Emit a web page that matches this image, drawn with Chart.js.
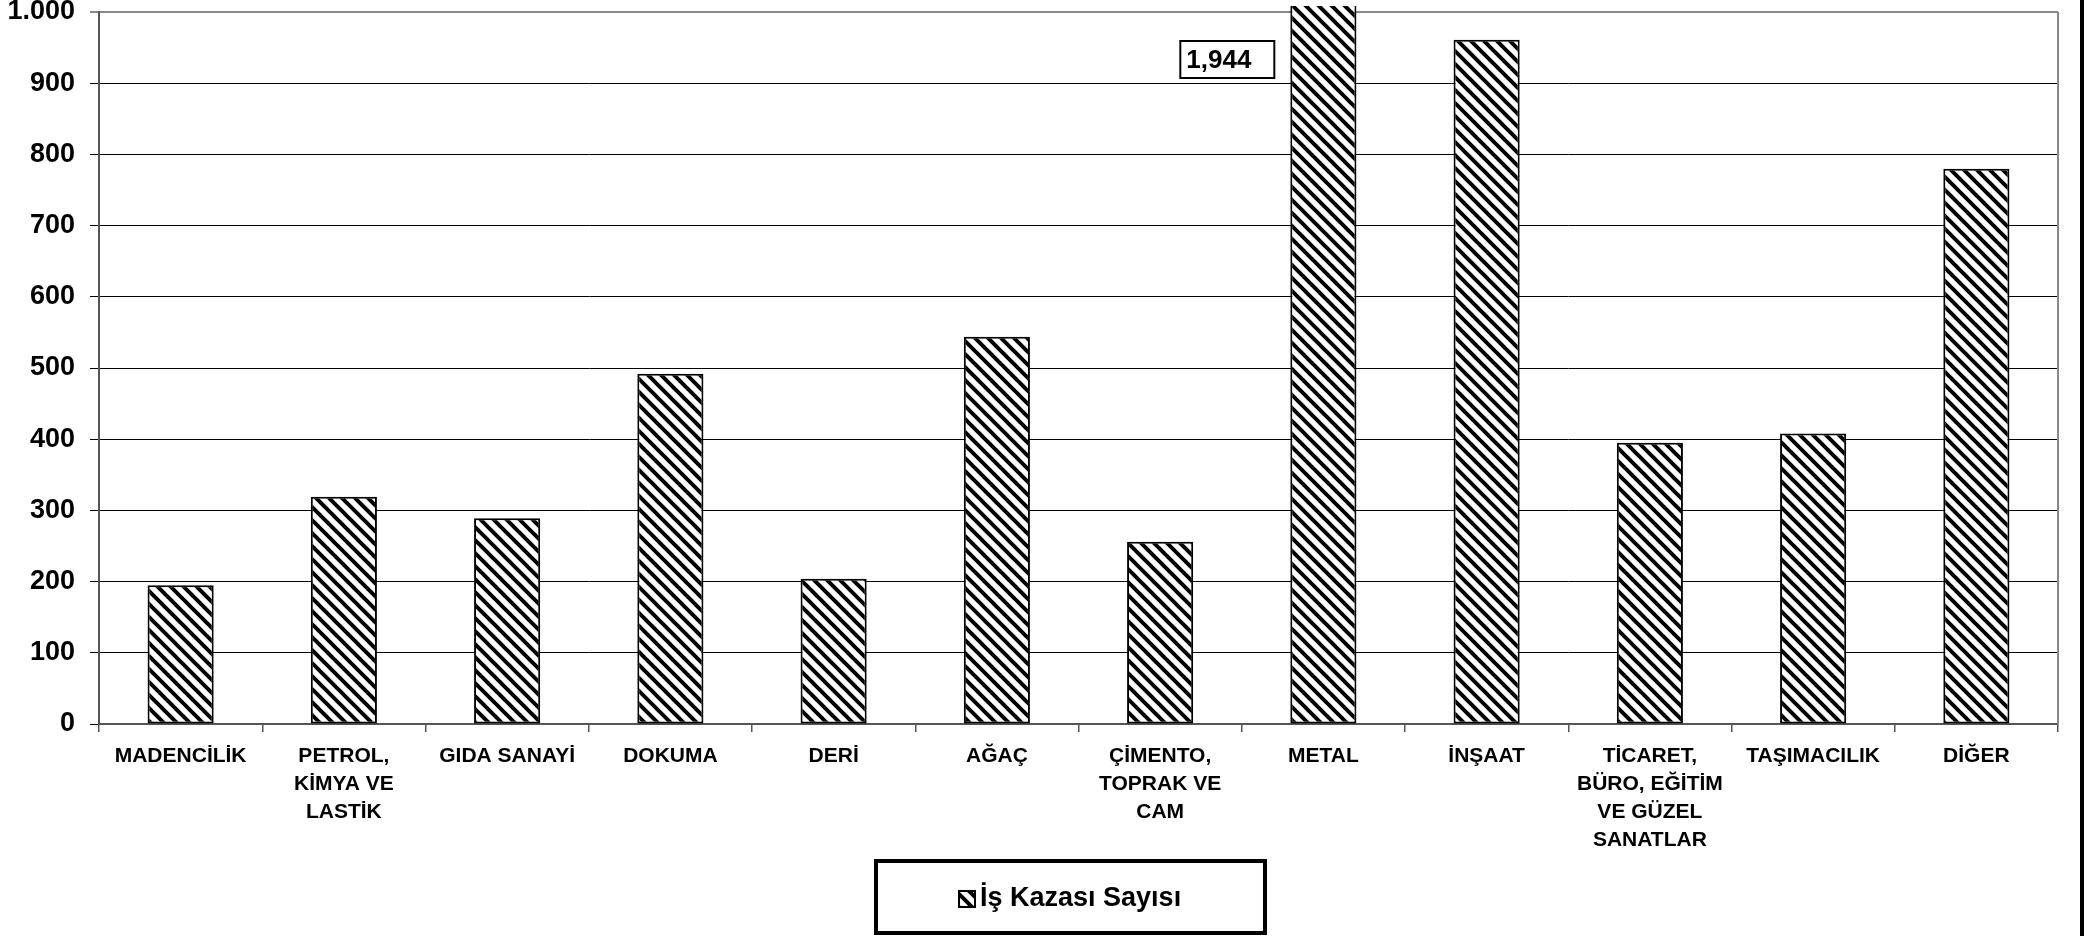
<!DOCTYPE html>
<html>
<head>
<meta charset="utf-8">
<script src="https://cdn.jsdelivr.net/npm/chart.js@4/dist/chart.umd.min.js"></script>
<style>
  html, body { margin: 0; padding: 0; background: #ffffff; }
  #wrap { width: 2087px; height: 936px; position: relative; overflow: hidden; }
  canvas { display: block; }
</style>
</head>
<body>
<div id="wrap"><canvas id="c" width="2087" height="936"></canvas></div>
<script>
// ---- data ----
const categories = [
  'MADENCİLİK',
  ['PETROL,', 'KİMYA VE', 'LASTİK'],
  'GIDA SANAYİ',
  'DOKUMA',
  'DERİ',
  'AĞAÇ',
  ['ÇİMENTO,', 'TOPRAK VE', 'CAM'],
  'METAL',
  'İNŞAAT',
  ['TİCARET,', 'BÜRO, EĞİTİM', 'VE GÜZEL', 'SANATLAR'],
  'TAŞIMACILIK',
  'DİĞER'
];
const accidentCounts = [195, 319, 289, 492, 204, 544, 256, 1944, 961, 395, 408, 780];
const seriesName = 'İş Kazası Sayısı';
const yTickValues = [0, 100, 200, 300, 400, 500, 600, 700, 800, 900, 1000];
const yTickLabels = ['0', '100', '200', '300', '400', '500', '600', '700', '800', '900', '1.000'];
const overflowLabels = ['', '', '', '', '', '', '', '1,944', '', '', '', ''];

const FONT = '"Liberation Sans", Arial, Helvetica, sans-serif';
const canvas = document.getElementById('c');
const mainCtx = canvas.getContext('2d');

function makeHatch(size, lw) {
  const c = document.createElement('canvas');
  c.width = size; c.height = size;
  const g = c.getContext('2d');
  g.fillStyle = '#ffffff';
  g.fillRect(0, 0, size, size);
  g.strokeStyle = '#000000';
  g.lineWidth = lw;
  g.lineCap = 'butt';
  g.beginPath();
  g.moveTo(-3, -3); g.lineTo(size + 3, size + 3);
  g.moveTo(-3, size - 3); g.lineTo(3, size + 3);
  g.moveTo(size - 3, -3); g.lineTo(size + 3, 3);
  g.stroke();
  return mainCtx.createPattern(c, 'repeat');
}
const hatch = makeHatch(13, 4);

const decorations = {
  id: 'decorations',
  beforeDatasetsDraw(chart) {
    const { ctx, chartArea: a } = chart;
    ctx.save();
    ctx.strokeStyle = '#888888';
    ctx.lineWidth = 2;
    ctx.beginPath();
    ctx.moveTo(a.right, a.top);
    ctx.lineTo(a.right, a.bottom);
    ctx.stroke();
    ctx.restore();
  },
  afterDatasetsDraw(chart) {
    const { ctx, chartArea: a } = chart;
    const meta = chart.getDatasetMeta(0);
    ctx.save();
    overflowLabels.forEach((txt, i) => {
      if (!txt) return;
      const bar = meta.data[i];
      const right = bar.x - bar.width / 2 - 16;
      const w = 94, h = 37;
      const left = right - w;
      const top = a.top + 29;
      ctx.fillStyle = '#ffffff';
      ctx.fillRect(left, top, w, h);
      ctx.strokeStyle = '#000000';
      ctx.lineWidth = 2;
      ctx.strokeRect(left, top, w, h);
      ctx.fillStyle = '#000000';
      ctx.font = 'bold 26px ' + FONT;
      ctx.textAlign = 'left';
      ctx.textBaseline = 'middle';
      ctx.fillText(txt, left + 6, top + h / 2 + 1);
    });
    ctx.restore();
  },
  afterDraw(chart) {
    const { ctx } = chart;
    ctx.save();
    ctx.fillStyle = '#000000';
    ctx.fillRect(2080, 0, 4, 936);
    // legend box
    const bx = 876, by = 861, bw = 389, bh = 72;
    ctx.fillStyle = '#ffffff';
    ctx.fillRect(bx, by, bw, bh);
    ctx.strokeStyle = '#000000';
    ctx.lineWidth = 4;
    ctx.strokeRect(bx, by, bw, bh);
    const ty = 899;
    ctx.fillStyle = hatch;
    ctx.fillRect(959, ty - 8, 16, 16);
    ctx.strokeStyle = '#000000';
    ctx.lineWidth = 2;
    ctx.strokeRect(959, ty - 8, 16, 16);
    ctx.fillStyle = '#000000';
    ctx.font = 'bold 27px ' + FONT;
    ctx.textAlign = 'left';
    ctx.textBaseline = 'middle';
    ctx.fillText(chart.data.datasets[0].label, 980, ty);
    ctx.restore();
  }
};

new Chart(mainCtx, {
  type: 'bar',
  data: {
    labels: categories,
    datasets: [{
      label: seriesName,
      data: accidentCounts,
      backgroundColor: hatch,
      borderColor: '#000000',
      borderWidth: 2,
      borderSkipped: false,
      categoryPercentage: 0.405,
      barPercentage: 1.0,
      clip: { left: 0, top: 6, right: 0, bottom: 0 }
    }]
  },
  options: {
    responsive: false,
    devicePixelRatio: 1,
    animation: false,
    layout: { padding: { left: 0, top: 12, right: 29, bottom: 0 } },
    plugins: {
      legend: { display: false },
      tooltip: { enabled: false },
      title: { display: false }
    },
    scales: {
      x: {
        type: 'category',
        grid: {
          display: true,
          drawOnChartArea: false,
          drawTicks: true,
          tickLength: 8,
          offset: true,
          color: '#555555',
          lineWidth: 1.5
        },
        border: { display: true, color: '#555555', width: 2 },
        ticks: {
          autoSkip: false,
          maxRotation: 0,
          minRotation: 0,
          padding: 10,
          color: '#000000',
          font: { family: FONT, size: 21, weight: 'bold', lineHeight: 1.33 }
        },
        afterFit(scale) {
          scale.height = 212;
          scale.paddingLeft = 0;
          scale.paddingRight = 0;
        }
      },
      y: {
        type: 'linear',
        min: 0,
        max: 1000,
        afterBuildTicks(scale) {
          scale.ticks = yTickValues.map(v => ({ value: v }));
        },
        grid: {
          display: true,
          drawOnChartArea: true,
          drawTicks: true,
          tickLength: 9,
          color: (c) => (c.tick && c.tick.value === 1000 ? '#888888' : '#000000'),
          lineWidth: (c) => (c.tick && c.tick.value === 1000 ? 2 : 1)
        },
        border: { display: true, color: '#555555', width: 2 },
        ticks: {
          padding: 15,
          color: '#000000',
          font: { family: FONT, size: 27, weight: 'bold', lineHeight: 1.2 },
          callback: (value) => {
            const i = yTickValues.indexOf(value);
            return i >= 0 ? yTickLabels[i] : '';
          }
        },
        afterFit(scale) {
          scale.width = 99;
          scale.paddingTop = 0;
          scale.paddingBottom = 0;
        }
      }
    }
  },
  plugins: [decorations]
});
</script>
</body>
</html>
